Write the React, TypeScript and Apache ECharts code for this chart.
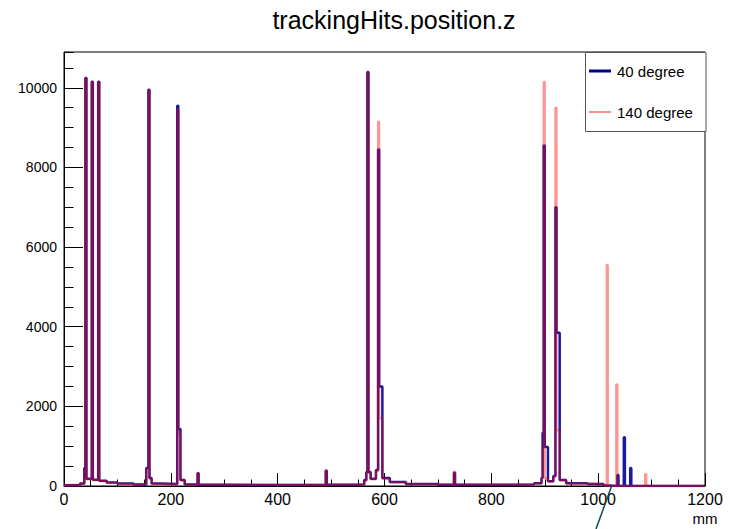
import React, { useEffect, useRef } from "react";
import * as echarts from "echarts";

const FONT = '"Liberation Sans", Arial, Helvetica, sans-serif';

const titleText = "trackingHits.position.z";
const xAxisUnit = "mm";
const seriesNames = ["40 degree", "140 degree"];

// histogram bins: [bin low edge (mm), counts]; each count holds until the next edge
const hist40: [number, number][] = [
  [0, 20], [30, 60], [38, 450], [40, 10250], [42, 180], [52, 10150], [54, 160],
  [64, 10150], [66, 130], [80, 90], [100, 60], [130, 40], [154, 450], [158, 9950],
  [160, 200], [164, 60], [180, 50], [212, 9550], [214, 1430], [218, 150], [226, 40],
  [250, 320], [252, 30], [300, 25], [400, 30], [490, 380], [492, 30], [540, 40],
  [562, 150], [566, 350], [568, 10400], [570, 350], [574, 180], [584, 400],
  [588, 8450], [590, 2500], [596, 200], [610, 100], [640, 50], [700, 30],
  [730, 330], [732, 30], [800, 40], [880, 70], [894, 200], [896, 1340],
  [898, 8550], [900, 980], [906, 120], [916, 250], [920, 7000], [922, 3850],
  [928, 150], [940, 70], [980, 50], [1010, 10], [1020, 0], [1036, 275], [1038, 0],
  [1048, 1225], [1050, 0], [1060, 450], [1062, 0], [1200, 0],
];

const hist140: [number, number][] = [
  [0, 25], [30, 55], [38, 420], [40, 10250], [42, 170], [52, 10150], [54, 150],
  [64, 10150], [66, 120], [80, 80], [100, 55], [130, 45], [154, 430], [158, 9950],
  [160, 180], [164, 55], [180, 45], [212, 9450], [214, 1300], [218, 140], [226, 35],
  [250, 330], [252, 35], [300, 30], [400, 25], [490, 400], [492, 35], [540, 35],
  [562, 130], [566, 330], [568, 10400], [570, 330], [574, 170], [584, 380],
  [588, 9150], [590, 1700], [596, 180], [610, 90], [640, 45], [700, 35],
  [730, 360], [732, 35], [800, 35], [880, 60], [894, 180], [896, 1000],
  [898, 10150], [900, 200], [906, 110], [916, 230], [920, 9500], [922, 1400],
  [928, 140], [940, 60], [980, 45], [1010, 10], [1016, 5550], [1018, 0],
  [1034, 2550], [1036, 0], [1088, 300], [1090, 0], [1200, 0],
];

const BLUE = "#1a1aa0";
const RED = "rgba(255,0,0,0.42)";

export default function App() {
  const ref = useRef<HTMLDivElement>(null);
  useEffect(() => {
    const chart = echarts.init(ref.current!, null, { renderer: "svg" });
    const txt = (
      text: string,
      x: number,
      y: number,
      size: number,
      align: string
    ) => ({
      type: "text",
      x,
      y,
      z: 101,
      style: {
        text,
        fontSize: size,
        fontFamily: FONT,
        fill: "#000",
        align,
        verticalAlign: "middle",
        textAlign: align,
        textVerticalAlign: "middle",
      },
    });
    const plain = (v: number) => String(Math.round(v));
    chart.setOption({
      animation: false,
      backgroundColor: "#fff",
      textStyle: { fontFamily: FONT },
      grid: {
        left: 64,
        right: 25,
        top: 52,
        bottom: 43,
        show: true,
        borderColor: "#000",
        borderWidth: 1,
        backgroundColor: "transparent",
      },
      xAxis: [
        {
          type: "value",
          min: 0,
          max: 1200,
          interval: 200,
          position: "bottom",
          axisLine: { show: true, onZero: false, lineStyle: { color: "#000", width: 1 } },
          axisTick: { show: true, inside: true, length: 13, lineStyle: { color: "#000" } },
          axisLabel: { color: "#000", fontSize: 16, margin: 5, fontFamily: FONT, formatter: plain },
          splitLine: { show: false },
        },
        {
          type: "value",
          min: 0,
          max: 1200,
          interval: 50,
          position: "bottom",
          axisLine: { show: false },
          axisTick: { show: true, inside: true, length: 6.5, lineStyle: { color: "#000" } },
          axisLabel: { show: false },
          splitLine: { show: false },
        },
      ],
      yAxis: [
        {
          type: "value",
          min: 0,
          max: 10900,
          interval: 2000,
          position: "left",
          axisLine: { show: true, onZero: false, lineStyle: { color: "#000", width: 1 } },
          axisTick: { show: true, inside: true, length: 19, lineStyle: { color: "#000" } },
          axisLabel: {
            color: "#000",
            fontSize: 14,
            margin: 7,
            showMaxLabel: false,
            fontFamily: FONT,
            formatter: plain,
          },
          splitLine: { show: false },
        },
        {
          type: "value",
          min: 0,
          max: 10900,
          interval: 500,
          position: "left",
          axisLine: { show: false },
          axisTick: { show: true, inside: true, length: 9.5, lineStyle: { color: "#000" } },
          axisLabel: { show: false },
          splitLine: { show: false },
        },
      ],
      series: [
        {
          name: seriesNames[0],
          type: "line",
          step: "end",
          xAxisIndex: 0,
          yAxisIndex: 0,
          data: hist40,
          symbol: "none",
          showSymbol: false,
          lineStyle: { color: BLUE, width: 2.5 },
          z: 2,
        },
        {
          name: seriesNames[1],
          type: "line",
          step: "end",
          xAxisIndex: 0,
          yAxisIndex: 0,
          data: hist140,
          symbol: "none",
          showSymbol: false,
          lineStyle: { color: RED, width: 2.3 },
          z: 3,
        },
      ],
      graphic: [
        txt(titleText, 394, 20, 25, "center"),
        txt(xAxisUnit, 705, 518, 15, "center"),
        {
          type: "line",
          z: 100,
          shape: { x1: 612, y1: 485, x2: 596, y2: 529 },
          style: { stroke: "#0f4a58", lineWidth: 1.5 },
        },
        {
          type: "rect",
          z: 100,
          shape: { x: 585.5, y: 52.5, width: 120.5, height: 79 },
          style: { fill: "#fff", stroke: "#555", lineWidth: 1 },
        },
        {
          type: "line",
          z: 101,
          shape: { x1: 589, y1: 71, x2: 611, y2: 71 },
          style: { stroke: "#000090", lineWidth: 3 },
        },
        txt(seriesNames[0], 617, 71, 15, "left"),
        {
          type: "line",
          z: 101,
          shape: { x1: 589, y1: 112, x2: 611, y2: 112 },
          style: { stroke: "#f02020", lineWidth: 1 },
        },
        txt(seriesNames[1], 617, 112, 15, "left"),
      ],
    });
    return () => chart.dispose();
  }, []);
  return (
    <div
      ref={ref}
      style={{ position: "fixed", left: 0, top: 0, width: 730, height: 529 }}
    />
  );
}
